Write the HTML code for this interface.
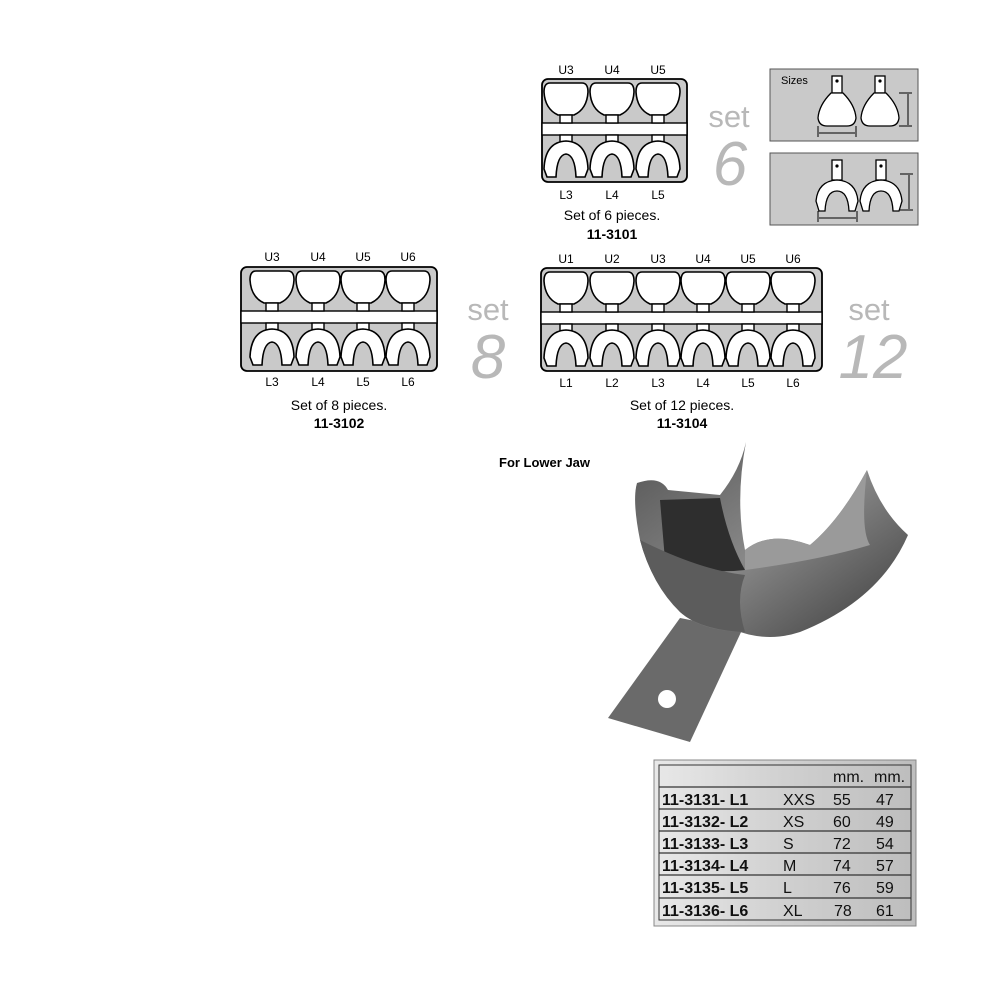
<!DOCTYPE html>
<html><head><meta charset="utf-8"><style>
html,body{margin:0;padding:0;background:#fff;}
svg{display:block}
text{font-family:"Liberation Sans",Arial,sans-serif;}
</style></head><body>
<svg width="1000" height="1000" viewBox="0 0 1000 1000" xmlns="http://www.w3.org/2000/svg">
<defs>
<g id="col">
  <path d="M-16,4 Q-22,4 -22,13 Q-21,30 -8,36 L8,36 Q21,30 22,13 Q22,4 16,4 Z" fill="#fff" stroke="#000" stroke-width="1.6"/>
  <rect x="-6" y="36" width="12" height="8" fill="#fff" stroke="#000" stroke-width="1.4"/>
  <rect x="-6" y="56" width="12" height="7" fill="#fff" stroke="#000" stroke-width="1.4"/>
  <path d="M-19,98 L-22,90 Q-21,63 0,62 Q21,63 22,90 L19,98 L10,98 Q9,76 0,75 Q-9,76 -10,98 Z" fill="#fff" stroke="#000" stroke-width="1.6"/>
</g>
<g id="up">
  <rect x="-5" y="-17" width="10" height="17" fill="#fff" stroke="#000" stroke-width="1.3"/>
  <circle cx="0" cy="-12" r="1.6"/>
  <path d="M-6,0 L6,0 Q18,12 19,25 Q18,33 10,33 L-10,33 Q-18,33 -19,25 Q-18,12 -6,0 Z" fill="#fff" stroke="#000" stroke-width="1.3"/>
</g>
<g id="lo">
  <rect x="-5" y="-20" width="10" height="20" fill="#fff" stroke="#000" stroke-width="1.3"/>
  <circle cx="0" cy="-14" r="1.6"/>
  <path d="M-18,31 L-21,21 Q-19,1 0,0 Q19,1 21,21 L18,31 L12,31 Q11,11 0,11 Q-11,11 -12,31 Z" fill="#fff" stroke="#000" stroke-width="1.3"/>
</g>
<linearGradient id="tg" x1="0" y1="0" x2="1" y2="0">
  <stop offset="0" stop-color="#e8e8e8"/><stop offset="0.5" stop-color="#d0d0d0"/><stop offset="1" stop-color="#bdbdbd"/>
</linearGradient>
<linearGradient id="mg" x1="0" y1="0" x2="1" y2="1">
  <stop offset="0" stop-color="#555"/><stop offset="0.5" stop-color="#888"/><stop offset="1" stop-color="#3a3a3a"/>
</linearGradient>
</defs>

<!-- set 6 -->
<g font-size="12" text-anchor="middle" fill="#000">
<text x="566" y="74">U3</text><text x="612" y="74">U4</text><text x="658" y="74">U5</text>
<text x="566" y="199">L3</text><text x="612" y="199">L4</text><text x="658" y="199">L5</text>
</g>
<rect x="542" y="79" width="145" height="103" rx="6" fill="#c9c9c9" stroke="#000" stroke-width="1.8"/>
<rect x="542" y="123" width="145" height="12" fill="#fff" stroke="#000" stroke-width="1.4"/>
<use href="#col" x="566" y="79"/><use href="#col" x="612" y="79"/><use href="#col" x="658" y="79"/>
<text x="612" y="220" font-size="14" text-anchor="middle">Set of 6 pieces.</text>
<text x="612" y="239" font-size="14" font-weight="bold" text-anchor="middle">11-3101</text>
<text x="729" y="127" font-size="31" fill="#b8b8b8" text-anchor="middle">set</text>
<text x="730" y="185" font-size="62" font-style="italic" fill="#b8b8b8" text-anchor="middle">6</text>

<!-- sizes boxes -->
<rect x="770" y="69" width="148" height="72" fill="#c9c9c9" stroke="#555" stroke-width="1"/>
<text x="781" y="84" font-size="11">Sizes</text>
<use href="#up" x="837" y="93"/><use href="#up" x="880" y="93"/>
<rect x="770" y="153" width="148" height="72" fill="#c9c9c9" stroke="#555" stroke-width="1"/>
<use href="#lo" x="837" y="180"/><use href="#lo" x="881" y="180"/>
<g stroke="#000" stroke-width="1" fill="none">
<path d="M818,126 V137 M856,126 V137 M819,133 H855 M899,93 H912 M899,126 H912 M908,94 V125"/>
<path d="M818,211 V222 M857,211 V222 M819,218 H856 M900,174 H913 M900,210 H913 M909,175 V209"/>
</g>

<!-- set 8 -->
<g font-size="12" text-anchor="middle">
<text x="272" y="261">U3</text><text x="318" y="261">U4</text><text x="363" y="261">U5</text><text x="408" y="261">U6</text>
<text x="272" y="386">L3</text><text x="318" y="386">L4</text><text x="363" y="386">L5</text><text x="408" y="386">L6</text>
</g>
<rect x="241" y="267" width="196" height="104" rx="6" fill="#c9c9c9" stroke="#000" stroke-width="1.8"/>
<rect x="241" y="311" width="196" height="12" fill="#fff" stroke="#000" stroke-width="1.4"/>
<use href="#col" x="272" y="267"/><use href="#col" x="318" y="267"/><use href="#col" x="363" y="267"/><use href="#col" x="408" y="267"/>
<text x="339" y="410" font-size="14" text-anchor="middle">Set of 8 pieces.</text>
<text x="339" y="428" font-size="14" font-weight="bold" text-anchor="middle">11-3102</text>
<text x="488" y="320" font-size="31" fill="#b8b8b8" text-anchor="middle">set</text>
<text x="488" y="378" font-size="62" font-style="italic" fill="#b8b8b8" text-anchor="middle">8</text>

<!-- set 12 -->
<g font-size="12" text-anchor="middle">
<text x="566" y="263">U1</text><text x="612" y="263">U2</text><text x="658" y="263">U3</text><text x="703" y="263">U4</text><text x="748" y="263">U5</text><text x="793" y="263">U6</text>
<text x="566" y="387">L1</text><text x="612" y="387">L2</text><text x="658" y="387">L3</text><text x="703" y="387">L4</text><text x="748" y="387">L5</text><text x="793" y="387">L6</text>
</g>
<rect x="541" y="268" width="281" height="103" rx="6" fill="#c9c9c9" stroke="#000" stroke-width="1.8"/>
<rect x="541" y="312" width="281" height="12" fill="#fff" stroke="#000" stroke-width="1.4"/>
<use href="#col" x="566" y="268"/><use href="#col" x="612" y="268"/><use href="#col" x="658" y="268"/><use href="#col" x="703" y="268"/><use href="#col" x="748" y="268"/><use href="#col" x="793" y="268"/>
<text x="682" y="410" font-size="14" text-anchor="middle">Set of 12 pieces.</text>
<text x="682" y="428" font-size="14" font-weight="bold" text-anchor="middle">11-3104</text>
<text x="869" y="320" font-size="31" fill="#b8b8b8" text-anchor="middle">set</text>
<text x="873" y="378" font-size="62" font-style="italic" fill="#b8b8b8" text-anchor="middle">12</text>

<!-- tray photo -->
<text x="499" y="467" font-size="13" font-weight="bold">For Lower Jaw</text>
<path d="M680,618 L742,630 L690,742 L608,718 Z" fill="#6a6a6a"/>
<circle cx="667" cy="699" r="9" fill="#fff"/>
<path d="M637,483 Q660,475 668,490 L720,495 Q740,470 746,442 Q735,500 745,550 Q770,530 810,545 Q840,520 867,470 Q880,510 908,535 Q880,600 800,632 Q770,642 740,632 Q700,630 680,612 Q650,580 640,540 Q632,500 637,483 Z" fill="url(#mg)"/>
<path d="M745,550 Q770,530 810,545 Q840,520 867,470 Q860,530 870,545 Q820,560 745,570 Z" fill="#9a9a9a"/>
<path d="M660,500 L720,498 Q728,540 745,570 Q700,575 665,560 Z" fill="#2e2e2e"/>
<path d="M640,540 Q700,570 745,575 Q735,600 745,632 Q700,630 680,612 Q652,585 640,540 Z" fill="#5c5c5c"/>

<!-- table -->
<rect x="654" y="760" width="262" height="166" fill="url(#tg)" stroke="#888" stroke-width="1"/>
<rect x="659" y="765" width="252" height="155" fill="none" stroke="#333" stroke-width="1"/>
<g stroke="#333" stroke-width="1.2">
<line x1="659" y1="787" x2="911" y2="787"/><line x1="659" y1="809" x2="911" y2="809"/><line x1="659" y1="831" x2="911" y2="831"/><line x1="659" y1="853" x2="911" y2="853"/><line x1="659" y1="875" x2="911" y2="875"/><line x1="659" y1="898" x2="911" y2="898"/>
</g>
<g font-size="16" fill="#111">
<text x="833" y="782">mm.</text><text x="874" y="782">mm.</text>
<g font-weight="bold">
<text x="662" y="805">11-3131- L1</text><text x="662" y="827">11-3132- L2</text><text x="662" y="849">11-3133- L3</text><text x="662" y="871">11-3134- L4</text><text x="662" y="893">11-3135- L5</text><text x="662" y="916">11-3136- L6</text>
</g>
<text x="783" y="805">XXS</text><text x="783" y="827">XS</text><text x="783" y="849">S</text><text x="783" y="871">M</text><text x="783" y="893">L</text><text x="783" y="916">XL</text>
<text x="833" y="805">55</text><text x="833" y="827">60</text><text x="833" y="849">72</text><text x="833" y="871">74</text><text x="833" y="893">76</text><text x="834" y="916">78</text>
<text x="876" y="805">47</text><text x="876" y="827">49</text><text x="876" y="849">54</text><text x="876" y="871">57</text><text x="876" y="893">59</text><text x="876" y="916">61</text>
</g>
</svg>
</body></html>
